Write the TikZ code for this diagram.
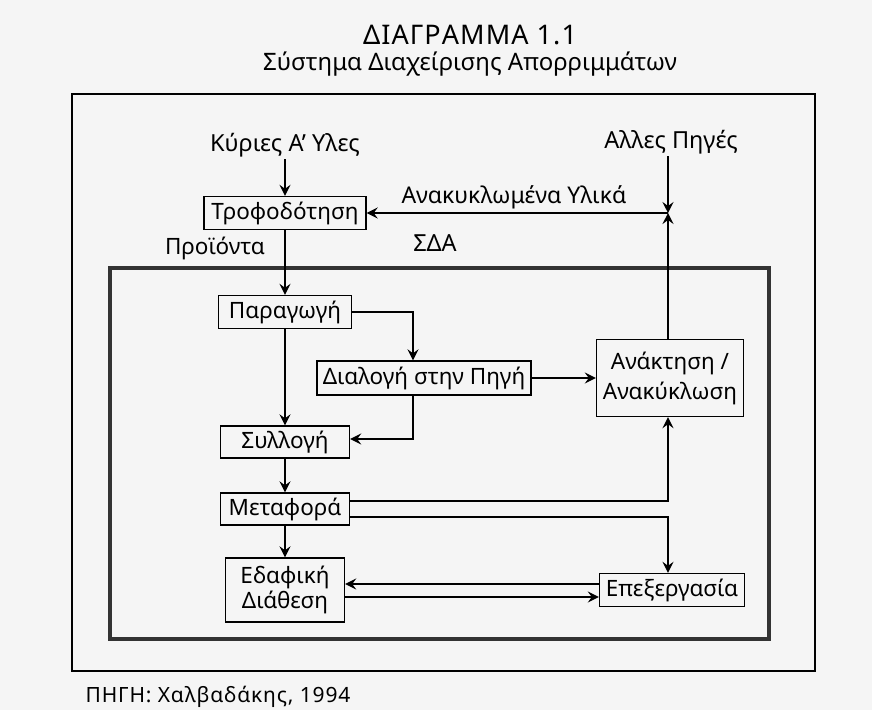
\documentclass[tikz,border=0pt]{standalone}
\usepackage{fontspec}
\setmainfont{Noto Sans}
\usetikzlibrary{arrows.meta,calc}
\begin{document}
\begin{tikzpicture}[x=1pt,y=-1pt,
  txt/.style={font=\fontsize{22.5}{27}\selectfont},
  box/.style={txt,draw,line width=1.4pt,minimum height=33pt,inner sep=0pt,align=center},
  lbl/.style={font=\fontsize{23.5}{28}\selectfont,inner sep=2pt},
  ln/.style={line width=1.4pt},
  arr/.style={ln,-{Stealth[length=11pt,width=11pt,inset=4pt]}}]
\fill[black!4] (0,0) rectangle (872,710);
\useasboundingbox (0,0) rectangle (872,710);
% frames
\draw[line width=1.1pt] (72,94) rectangle (815,671);
\draw[line width=3.8pt,black!80] (110,268) rectangle (769,639);
% titles
\node[lbl,font=\fontsize{27}{30}\selectfont\addfontfeature{LetterSpace=4}] (title) at (470,35) {ΔΙΑΓΡΑΜΜΑ 1.1};
\node[lbl,font=\fontsize{24}{28}\selectfont] (subtitle) at (470,64) {Σύστημα Διαχείρισης Απορριμμάτων};
% helper coordinates
\coordinate (colx) at (668,0);
\coordinate (dx) at (413,0);
\coordinate (J) at (668,213);
% labels
\node[lbl] (kyries) at (285,145) {Κύριες Α' Υλες};
\node[lbl] (alles) at (671,142) {Αλλες Πηγές};
\node[lbl,font=\fontsize{23}{28}\selectfont] (anakyl) at (514,197) {Ανακυκλωμένα Υλικά};
\node[lbl,font=\fontsize{22.5}{27}\selectfont] (proi) at (215,248) {Προϊόντα};
\node[lbl] (sda) at (435,243) {ΣΔΑ};
\node[lbl,font=\fontsize{21}{25}\selectfont\addfontfeature{LetterSpace=4}] (src) at (218,697) {ΠΗΓΗ: Χαλβαδάκης, 1994};
% boxes
\node[box,minimum width=162pt] (trof) at (285,213) {Τροφοδότηση};
\node[box,minimum width=133pt] (parag) at (285,312) {Παραγωγή};
\node[box,minimum width=214pt,minimum height=34pt] (dial) at (424,378) {Διαλογή στην Πηγή};
\node[box,minimum width=147pt,minimum height=77pt,font=\fontsize{22.5}{30}\selectfont] (anak) at (670,378) {Ανάκτηση /\\Ανακύκλωση};
\node[box,minimum width=129pt,minimum height=32pt] (syl) at (285,442) {Συλλογή};
\node[box,minimum width=129pt,minimum height=32pt] (meta) at (285,509) {Μεταφορά};
\node[box,minimum width=119pt,minimum height=64pt,font=\fontsize{22.5}{25}\selectfont] (edaf) at (285,590) {Εδαφική\\Διάθεση};
\node[box,minimum width=145pt] (epex) at (672,590) {Επεξεργασία};
% connectors
\draw[arr] (kyries) -- (trof);
\draw[arr] (alles.south -| colx) -- (J);
\draw[arr] (anak.north -| colx) -- (J);
\draw[arr] (J) -- (trof);
\draw[arr] (trof) -- (parag);
\draw[arr] (parag.east) -| (dx |- dial.north);
\draw[arr] (dial) -- (anak);
\draw[arr] (dx |- dial.south) |- ([yshift=3pt]syl.east);
\draw[arr] (parag) -- (syl);
\draw[arr] (syl) -- (meta);
\draw[arr] (meta) -- (edaf);
\draw[arr] ([yshift=8pt]meta.east) -| (colx |- anak.south);
\draw[arr] ([yshift=-8pt]meta.east) -| (colx |- epex.north);
\draw[arr] ([yshift=6pt]epex.west) -- ([yshift=6pt]edaf.east);
\draw[arr] ([yshift=-7pt]edaf.east) -- ([yshift=-7pt]epex.west);
\end{tikzpicture}
\end{document}
